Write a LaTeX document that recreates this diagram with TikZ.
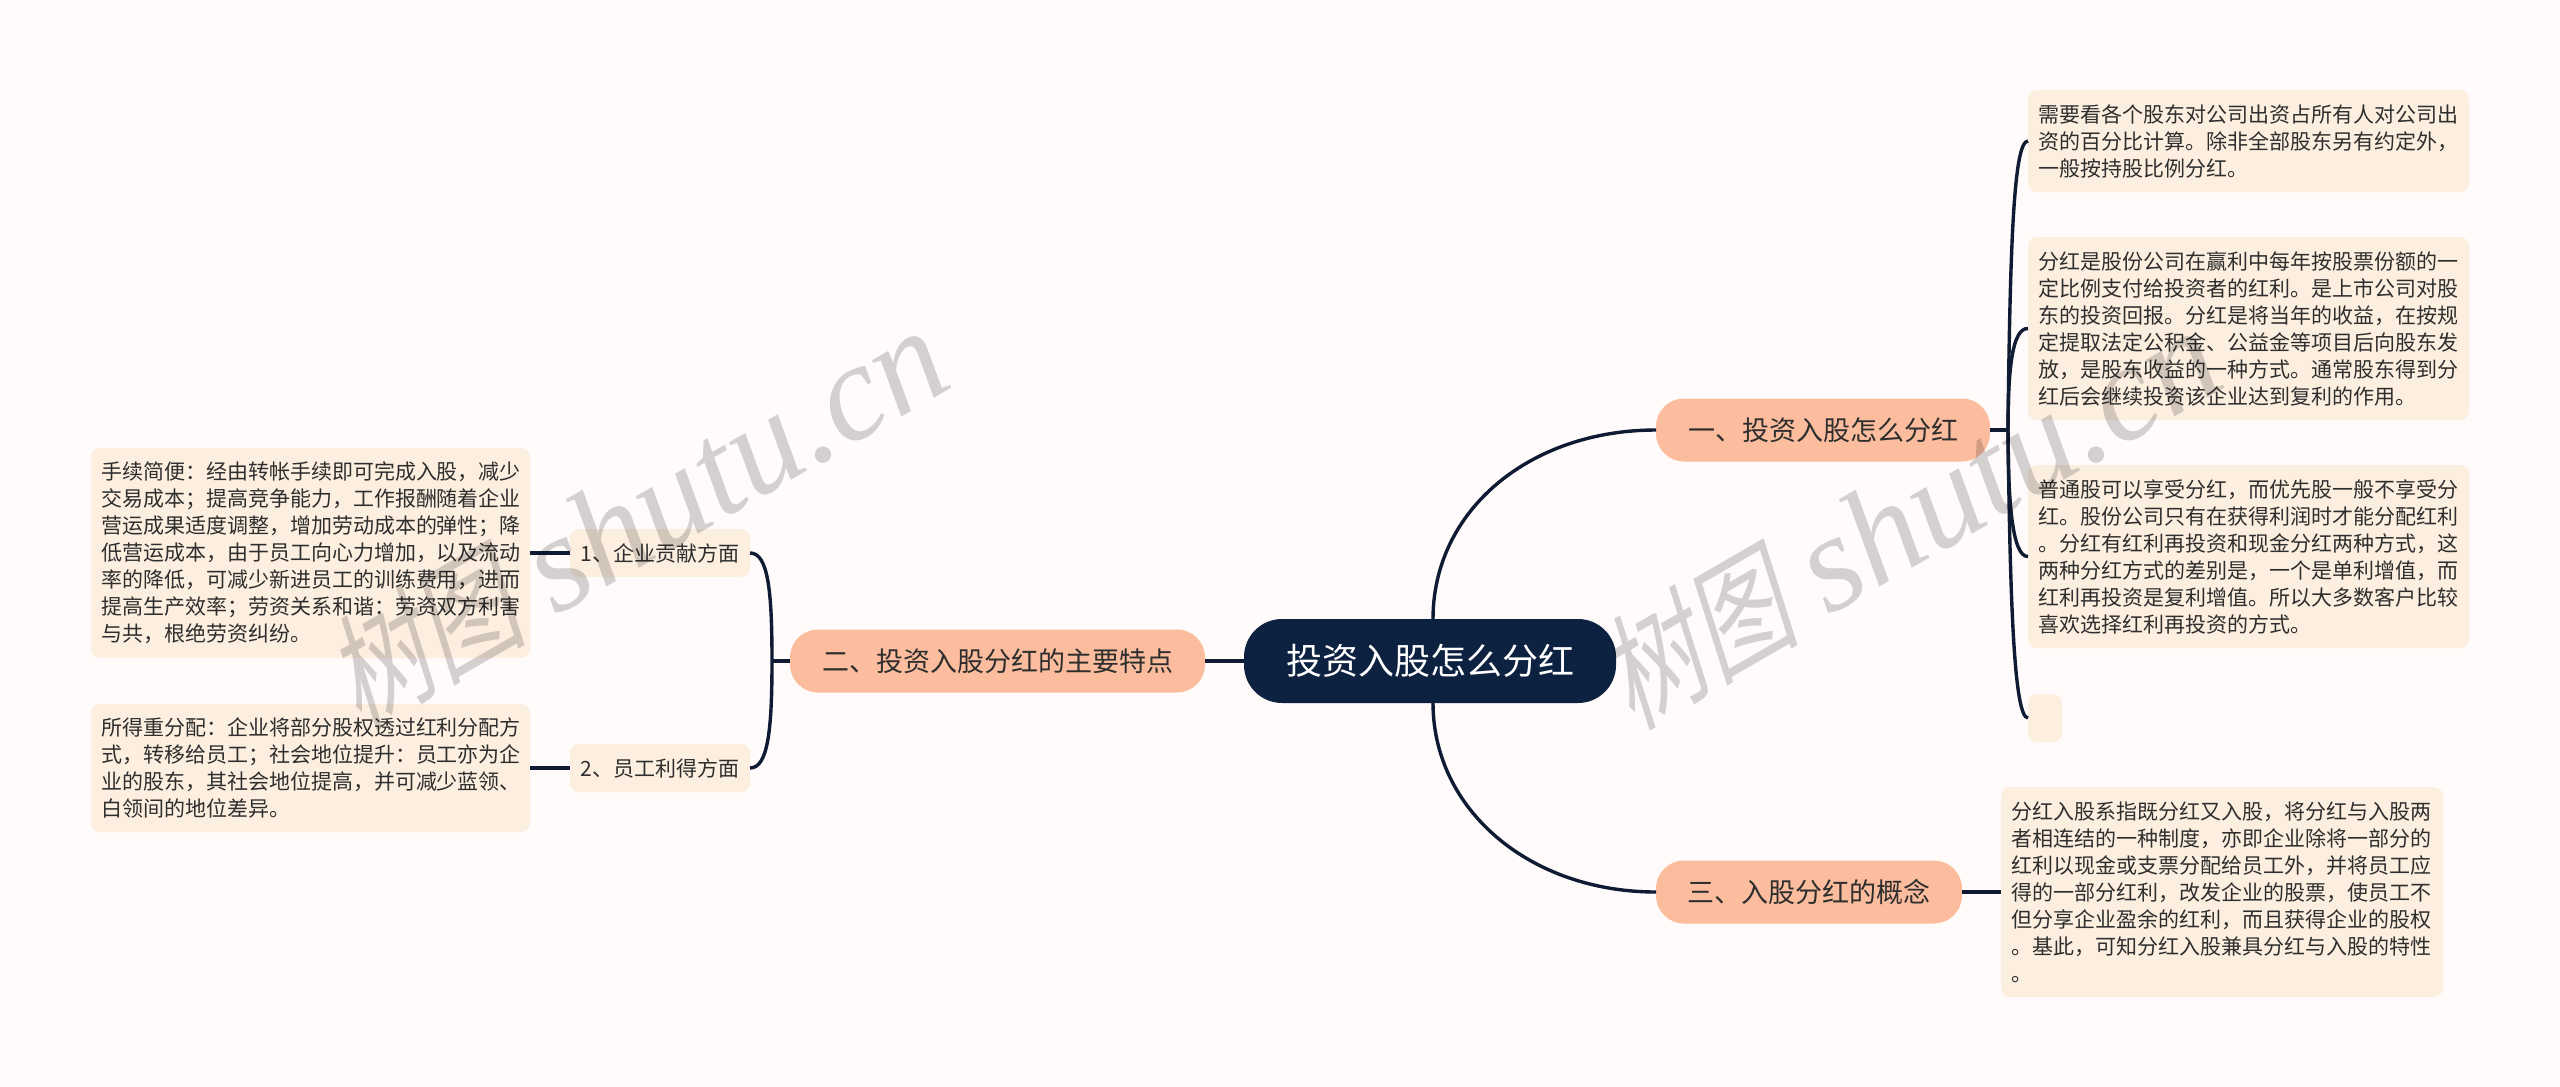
\documentclass[tikz,border=0pt]{standalone}
\usepackage{fontspec}
\setmainfont{Noto Sans CJK SC}
\newfontfamily\wmcjk[FakeSlant=0.22,FakeStretch=0.78]{Noto Sans CJK SC}
\newfontfamily\wmlat{Liberation Serif Italic}
\newcommand{\fc}{\char"FF0C\relax}
\newcommand{\fs}{\char"FF1B\relax}
\newcommand{\fk}{\char"FF1A\relax}
\definecolor{bgc}{HTML}{FEFBFA}
\definecolor{leafc}{HTML}{FDEFE0}
\definecolor{mainc}{HTML}{FBBD9D}
\definecolor{rootc}{HTML}{0D2240}
\definecolor{linec}{HTML}{0E1B33}
\definecolor{txtc}{HTML}{2E2E2E}
\tikzset{
  leaf/.style={anchor=north west,fill=leafc,rounded corners=9pt,inner xsep=10pt,inner ysep=0pt,outer sep=0pt,align=left,
    text=txtc,font=\fontsize{21pt}{27pt}\selectfont,minimum height=#1},
  sub/.style={fill=leafc,rounded corners=9pt,inner sep=0pt,outer sep=0pt,minimum width=180pt,minimum height=48pt,
    text=txtc,font=\fontsize{21pt}{27pt}\selectfont},
  mainn/.style={fill=mainc,rounded corners=28pt,inner sep=0pt,outer sep=0pt,minimum height=63pt,
    text=txtc,font=\fontsize{27pt}{32pt}\selectfont},
  rootn/.style={fill=rootc,rounded corners=38pt,inner sep=0pt,outer sep=0pt,minimum width=372pt,minimum height=84pt,
    text=white,font=\fontsize{36pt}{42pt}\selectfont},
  conn/.style={draw=linec,line width=3.4pt},
  wm/.style={text=black,opacity=0.17,rotate=30,inner sep=0pt,font=\fontsize{138pt}{140pt}\selectfont},
}
\newcommand{\wmtext}{{\fontsize{125pt}{140pt}\selectfont\wmcjk 树图} {\wmlat shutu.cn}}
\begin{document}
\begin{tikzpicture}[x=1pt,y=-1pt]
\useasboundingbox (0,0) rectangle (2560,1087);
\fill[bgc] (0,0) rectangle (2560,1087);
% nodes
\node[rootn] (root) at (1430,661) {投资入股怎么分红};
\node[mainn,minimum width=334pt] (m1) at (1823,430) {一、投资入股怎么分红};
\node[mainn,minimum width=306pt] (m3) at (1809,892) {三、入股分红的概念};
\node[mainn,minimum width=415pt] (m2) at (997.5,661) {二、投资入股分红的主要特点};
\node[sub] (s1) at (660,553) {1、企业贡献方面};
\node[sub] (s2) at (660,768) {2、员工利得方面};
\node[leaf=102pt,text width=421pt] (a) at (2028,90) {需要看各个股东对公司出资占所有人对公司出\\资的百分比计算。除非全部股东另有约定外\fc\\一般按持股比例分红。};
\node[leaf=183pt,text width=421pt] (b) at (2028,237) {分红是股份公司在赢利中每年按股票份额的一\\定比例支付给投资者的红利。是上市公司对股\\东的投资回报。分红是将当年的收益\fc 在按规\\定提取法定公积金、公益金等项目后向股东发\\放\fc 是股东收益的一种方式。通常股东得到分\\红后会继续投资该企业达到复利的作用。};
\node[leaf=183pt,text width=421pt] (c) at (2028,465) {普通股可以享受分红\fc 而优先股一般不享受分\\红。股份公司只有在获得利润时才能分配红利\\。分红有红利再投资和现金分红两种方式\fc 这\\两种分红方式的差别是\fc 一个是单利增值\fc 而\\红利再投资是复利增值。所以大多数客户比较\\喜欢选择红利再投资的方式。};
\node[leaf=48pt,text width=14pt] (d) at (2028,694) {};
\node[leaf=210pt,text width=422pt] (e) at (2001,787) {分红入股系指既分红又入股\fc 将分红与入股两\\者相连结的一种制度\fc 亦即企业除将一部分的\\红利以现金或支票分配给员工外\fc 并将员工应\\得的一部分红利\fc 改发企业的股票\fc 使员工不\\但分享企业盈余的红利\fc 而且获得企业的股权\\。基此\fc 可知分红入股兼具分红与入股的特性\\。};
\node[leaf=210pt,text width=419pt] (f) at (91,448) {手续简便\fk 经由转帐手续即可完成入股\fc 减少\\交易成本\fs 提高竞争能力\fc 工作报酬随着企业\\营运成果适度调整\fc 增加劳动成本的弹性\fs 降\\低营运成本\fc 由于员工向心力增加\fc 以及流动\\率的降低\fc 可减少新进员工的训练费用\fc 进而\\提高生产效率\fs 劳资关系和谐\fk 劳资双方利害\\与共\fc 根绝劳资纠纷。};
\node[leaf=128pt,text width=419pt] (g) at (91,704) {所得重分配\fk 企业将部分股权透过红利分配方\\式\fc 转移给员工\fs 社会地位提升\fk 员工亦为企\\业的股东\fc 其社会地位提高\fc 并可减少蓝领、\\白领间的地位差异。};
% junctions
\coordinate (jr) at (2008,430);
\coordinate (jl) at (772,661);
% connectors
\draw[conn] (root.west) -- (m2.east);
\draw[conn] ([xshift=3pt]root.north) .. controls (1433,510) and (1530,430) .. (m1.west);
\draw[conn] ([xshift=3pt]root.south) .. controls (1433,810) and (1530,892) .. (m3.west);
\draw[conn] (m3.east) -- (e.west);
\draw[conn] (m2.west) -- (jl);
\draw[conn] (s1.west) -- (f.east |- s1.west);
\draw[conn] (s2.west) -- (g.east |- s2.west);
\draw[conn] (jl) .. controls (772,590) and (768,553) .. (s1.east);
\draw[conn] (jl) .. controls (772,730) and (768,768) .. (s2.east);
\draw[conn] (m1.east) -- (jr);
\draw[conn] (jr) .. controls (2010,240) and (2014,141) .. (a.west);
\draw[conn] (jr) .. controls (2008,370) and (2012,328) .. (b.west);
\draw[conn] (jr) .. controls (2008,500) and (2012,557) .. (c.west);
\draw[conn] (jr) .. controls (2010,600) and (2014,718) .. (d.west);
% watermarks
\node[wm] (wm1) at (635,516) {\wmtext};
\node[wm] (wm2) at (1908,516) {\wmtext};
\end{tikzpicture}
\end{document}
